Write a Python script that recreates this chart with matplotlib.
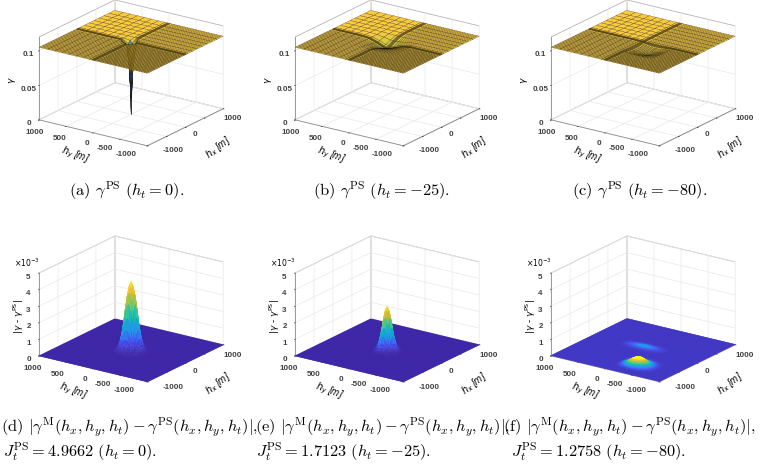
import numpy as np
import matplotlib
matplotlib.use("Agg")
import matplotlib.pyplot as plt
from matplotlib.colors import LinearSegmentedColormap, Normalize

plt.rcParams['mathtext.fontset'] = 'cm'

W, H = 764, 465

parula = LinearSegmentedColormap.from_list("parula", [
    (0.2422, 0.1504, 0.6603), (0.2810, 0.3228, 0.9579), (0.1540, 0.5902, 0.9218),
    (0.0265, 0.6800, 0.8135), (0.2161, 0.7843, 0.5923), (0.5044, 0.7993, 0.3480),
    (0.8185, 0.7327, 0.1900), (0.9956, 0.7862, 0.2226), (0.9769, 0.9839, 0.0805)])
gold_map = LinearSegmentedColormap.from_list("gold", [
    (0, (0.10, 0.10, 0.42)), (0.5, (0.14, 0.24, 0.68)), (0.72, (0.25, 0.55, 0.90)),
    (0.79, (0.80, 0.78, 0.25)), (0.875, (0.98, 0.79, 0.24)), (1, (0.98, 0.85, 0.20))])

hx_ticks = [-1000, -500, 0, 500, 1000]
hy_ticks = [-1000, -500, 0, 500, 1000]
hx_labels = ['-1000', '0', '1000']
hy_labels = ['1000', '500', '0', '-500', '-1000']
# label places in pixels, relative to the panel
hx_label_x = [173, 195, 233]
hx_label_y = [151, 135, 119]
hy_label_x = [35, 60, 87, 105, 126]
hy_label_y = [132, 138, 143, 148, 154]

top_zticks = [0, 0.05, 0.1]
top_zlabels = ['0', '0.05', '0.1']
bottom_zticks = [0, 1, 2, 3, 4, 5]
bottom_zlabels = ['0', '1', '2', '3', '4', '5']

# sampling lines of the gamma surfaces: fine for h<0, very fine around 0, coarse for h>0
mesh_top = np.concatenate([np.arange(-1000, -69, 30), np.arange(-30, 31, 10),
                           [70, 190, 320, 450, 580, 710, 840, 1000]])
mesh_bottom = np.arange(-1000, 1001, 25)

plane_gamma = 0.105

# panel a, spike at the origin
spike_a_h = [-100, -70, -30, -20, -10, 0, 10, 20, 30, 70, 190]
spike_a_v = [0.02, 0.10, 0.44, 0.58, 0.78, 1, 0.78, 0.58, 0.44, 0.10, 0]
spike_a_depth = 0.105

# panel b, wide dip at the origin
dip_b_h = [-400, -370, -340, -310, -280, -250, -220, -190, -160, -130, -100, -70,
           -30, -20, -10, 0, 10, 20, 30, 70, 190, 320, 450]
dip_b_v = [0.06, 0.09, 0.13, 0.18, 0.24, 0.31, 0.40, 0.49, 0.58, 0.67, 0.76, 0.85,
           0.96, 0.98, 0.99, 1, 0.99, 0.98, 0.96, 0.85, 0.45, 0.10, 0.01]
dip_b_depth = 0.010

# panel c, shallow dip moved towards the front corner
dip_c_h = [-520, -490, -460, -430, -400, -370, -340, -310, -280, -250, -220, -190, -160, -130, -100, -70,
           -30, -20, -10, 0, 10, 20, 30, 70]
dip_c_v = [0.20, 0.28, 0.38, 0.50, 0.62, 0.74, 0.85, 0.93, 0.98, 1, 0.98, 0.93, 0.85, 0.74, 0.62, 0.50,
           0.34, 0.30, 0.26, 0.22, 0.18, 0.15, 0.12, 0.03]
dip_c_depth = 0.006

# panel d and e, error peaks (1e-3)
peak_h = [-275, -250, -225, -200, -175, -150, -125, -100, -75, -50, -25, 0,
          25, 50, 75, 100, 125, 150, 175, 200, 225, 250, 275]
peak_d_v = [0, 0.01, 0.02, 0.05, 0.11, 0.20, 0.33, 0.50, 0.70, 0.86, 0.96, 1,
            0.96, 0.86, 0.70, 0.50, 0.33, 0.20, 0.11, 0.05, 0.02, 0.01, 0]
peak_d_height = 4.15
peak_e_v = [0, 0, 0.01, 0.02, 0.05, 0.10, 0.20, 0.36, 0.55, 0.78, 0.94, 1,
            0.94, 0.78, 0.55, 0.36, 0.20, 0.10, 0.05, 0.02, 0.01, 0, 0]
peak_e_height = 2.65

# panel f, main bump near the front and a faint streak behind it
bump_f_hx = [-850, -825, -800, -775, -750, -725, -700, -675, -650, -625, -600, -575,
             -550, -525, -500, -475, -450, -425, -400, -375, -350, -325, -300]
bump_f_hxv = [0.02, 0.05, 0.10, 0.18, 0.28, 0.40, 0.55, 0.70, 0.85, 0.95, 1, 0.99,
              0.95, 0.85, 0.72, 0.57, 0.42, 0.30, 0.20, 0.13, 0.08, 0.04, 0.02]
bump_f_hy = [-675, -650, -625, -600, -575, -550, -525, -500, -475, -450, -425, -400, -375, -350,
             -325, -300, -275, -250, -225, -200, -175, -150, -125, -100, -75, -50, -25]
bump_f_hyv = [0.02, 0.04, 0.06, 0.10, 0.15, 0.22, 0.30, 0.40, 0.50, 0.61, 0.72, 0.82, 0.90, 0.96,
              1, 0.96, 0.90, 0.82, 0.72, 0.61, 0.50, 0.39, 0.28, 0.19, 0.12, 0.07, 0.03]
bump_f_height = 0.5
bump_f_clim = 0.42
streak_f_hx = [-75, -50, -25, 0, 25, 50, 75, 100, 125, 150, 175, 200, 225, 250, 275, 300]
streak_f_hxv = [0.02, 0.08, 0.18, 0.34, 0.52, 0.72, 0.90, 1, 0.90, 0.72, 0.52, 0.34, 0.18, 0.08, 0.03, 0]
streak_f_hy = [-350, -325, -300, -275, -250, -225, -200, -175, -150, -125, -100, -75, -50, -25, 0, 25, 50,
               75, 100, 125, 150, 175, 200, 225, 250, 275, 300, 325, 350, 375, 400, 425, 450]
streak_f_hyv = [0.05, 0.08, 0.12, 0.17, 0.22, 0.28, 0.35, 0.42, 0.5, 0.57, 0.65, 0.72, 0.8, 0.86, 0.92, 0.97, 1,
                0.97, 0.92, 0.86, 0.8, 0.72, 0.65, 0.57, 0.5, 0.42, 0.35, 0.28, 0.22, 0.17, 0.12, 0.08, 0.05]
streak_f_height = 0.11
floor_f_level = 0.02

top_captions = [r"(a) $\gamma^{\mathrm{PS}}\ (h_t = 0)$.",
                r"(b) $\gamma^{\mathrm{PS}}\ (h_t = -25)$.",
                r"(c) $\gamma^{\mathrm{PS}}\ (h_t = -80)$."]
top_caption_x = [127, 382, 640]
diff_text = r"$|\gamma^{\mathrm{M}}(h_x, h_y, h_t) - \gamma^{\mathrm{PS}}(h_x, h_y, h_t)|$,"
bottom_captions = ["(d) " + diff_text, "(e) " + diff_text, "(f) " + diff_text]
bottom_caption_x = [1, 255, 503]
cost_captions = [r"$J_t^{\mathrm{PS}} = 4.9662\ (h_t = 0)$.",
                 r"$J_t^{\mathrm{PS}} = 1.7123\ (h_t = -25)$.",
                 r"$J_t^{\mathrm{PS}} = 1.2758\ (h_t = -80)$."]
cost_caption_x = [3, 256, 511]


def along_mesh(mesh, h, v):
    out = np.zeros(len(mesh))
    out[np.searchsorted(mesh, h)] = v
    return out


def put_text(x, y, s, **kw):
    kw.setdefault('ha', 'center')
    kw.setdefault('va', 'center')
    fig.text(x / W, 1 - y / H, s, **kw)


def make_axes(col, row):
    left = col * 256 - 8
    bottom = H - (row * 236 + 232 - 40)
    ax = fig.add_axes([left / W, bottom / H, 272 / W, 232 / H], projection='3d')
    ax.set_proj_type('ortho')
    ax.view_init(elev=20, azim=-145)
    ax.set_box_aspect((1, 1, 0.667), zoom=0.865)
    ax.patch.set_alpha(0)
    ax.set_xlim(-1000, 1000)
    ax.set_ylim(-1000, 1000)
    ax.set_xticks(hx_ticks)
    ax.set_xticklabels([''] * 5)
    ax.set_yticks(hy_ticks)
    ax.set_yticklabels([''] * 5)
    for axis in (ax.xaxis, ax.yaxis, ax.zaxis):
        axis.set_pane_color((1, 1, 1, 1))
        axis.pane.set_edgecolor('#b4b4b4')
        axis.pane.set_linewidth(0.6)
        axis.line.set_color('#8c8c8c')
        axis.line.set_linewidth(0.6)
        axis._axinfo['grid']['color'] = '#e8e8e8'
        axis._axinfo['grid']['linewidth'] = 0.5
        axis._axinfo['tick']['inward_factor'] = 0.1
        axis._axinfo['tick']['outward_factor'] = 0
        axis._axinfo['tick']['linewidth'] = {True: 0.4, False: 0.4}
        axis._axinfo['tick']['color'] = '#8c8c8c'
    ax.tick_params(labelsize=5.8, pad=-3, labelcolor='#404040', length=0)
    x0, dy = col * 256, row * 236
    shift = -2 if row else 0
    for i, s in enumerate(hy_labels):
        put_text(x0 + hy_label_x[i] + shift, hy_label_y[i] + dy, s, fontsize=5.8, color='#404040',
                 family='Liberation Sans', fontweight='bold')
    for i, s in enumerate(hx_labels):
        put_text(x0 + hx_label_x[i], hx_label_y[i] + dy, s, fontsize=5.8, color='#404040',
                 family='Liberation Sans', fontweight='bold')
    return ax


def draw_top(col, z, caption):
    ax = make_axes(col, 0)
    ax.set_zlim(0, 0.12)
    ax.set_zticks(top_zticks)
    ax.set_zticklabels(top_zlabels, family='Liberation Sans', fontweight='bold')
    hx, hy = np.meshgrid(mesh_top, mesh_top, indexing='ij')
    face = gold_map(Normalize(0, 0.12)(z))
    ax.plot_surface(hx, hy, z, rstride=1, cstride=1, facecolors=face, edgecolor=(0.1, 0.08, 0, 0.8),
                    linewidth=0.2, shade=False, antialiased=True)
    x0 = col * 256
    put_text(x0 + 13, 80, r"$\gamma$", rotation=90, fontsize=6.5, math_fontfamily='dejavusans')
    put_text(x0 + 75, 155, r"$h_y$ [m]", rotation=-20, fontsize=7, family='Liberation Sans',
             style='italic', math_fontfamily='dejavusans')
    put_text(x0 + 218, 148, r"$h_x$ [m]", rotation=38, fontsize=7, family='Liberation Sans',
             style='italic', math_fontfamily='dejavusans')
    put_text(top_caption_x[col], 191, caption, fontsize=11.8, family='cmr10')


def draw_bottom(col, z, vmax):
    ax = make_axes(col, 1)
    ax.set_zlim(0, 5)
    ax.set_zticks(bottom_zticks)
    ax.set_zticklabels(bottom_zlabels, family='Liberation Sans', fontweight='bold')
    hx, hy = np.meshgrid(mesh_bottom, mesh_bottom, indexing='ij')
    face = parula(Normalize(0, vmax)(z))
    surf = ax.plot_surface(hx, hy, z, rstride=1, cstride=1, facecolors=face, linewidth=0.3,
                           shade=False, antialiased=True)
    # give each cell's edge the colour of the cell, so no seams show
    surf.set_edgecolor(surf._facecolor3d)
    x0 = col * 256
    put_text(x0 + 27, 263, r"$\times 10^{-3}$", fontsize=5.5, math_fontfamily='dejavusans')
    put_text(x0 + 19, 317, r"$|\gamma$ - $\gamma^{\mathrm{PS}}|$", rotation=90, fontsize=6.5,
             math_fontfamily='dejavusans')
    put_text(x0 + 73, 391, r"$h_y$ [m]", rotation=-20, fontsize=7, family='Liberation Sans',
             style='italic', math_fontfamily='dejavusans')
    put_text(x0 + 218, 384, r"$h_x$ [m]", rotation=38, fontsize=7, family='Liberation Sans',
             style='italic', math_fontfamily='dejavusans')


fig = plt.figure(figsize=(W / 100, H / 100), dpi=100)

# gamma^PS surfaces
ones = np.full((len(mesh_top), len(mesh_top)), plane_gamma)
pa = along_mesh(mesh_top, spike_a_h, spike_a_v)
gamma_a = ones - spike_a_depth * np.outer(pa, pa)
pb = along_mesh(mesh_top, dip_b_h, dip_b_v)
gamma_b = ones - dip_b_depth * np.outer(pb, pb)
pc = along_mesh(mesh_top, dip_c_h, dip_c_v)
gamma_c = ones - dip_c_depth * np.outer(pc, pc)
for i, g in enumerate([gamma_a, gamma_b, gamma_c]):
    draw_top(i, g, top_captions[i])

# error surfaces, in units of 1e-3
pd_ = along_mesh(mesh_bottom, peak_h, peak_d_v)
pe = along_mesh(mesh_bottom, peak_h, peak_e_v)
err_d = peak_d_height * np.outer(pd_, pd_)
err_e = peak_e_height * np.outer(pe, pe)
err_f = (bump_f_height * np.outer(along_mesh(mesh_bottom, bump_f_hx, bump_f_hxv),
                                  along_mesh(mesh_bottom, bump_f_hy, bump_f_hyv))
         + streak_f_height * np.outer(along_mesh(mesh_bottom, streak_f_hx, streak_f_hxv),
                                      along_mesh(mesh_bottom, streak_f_hy, streak_f_hyv))
         + floor_f_level)
draw_bottom(0, err_d, peak_d_height)
draw_bottom(1, err_e, peak_e_height)
draw_bottom(2, err_f, bump_f_clim)

for i in range(3):
    put_text(bottom_caption_x[i], 427, bottom_captions[i], ha='left', fontsize=11.8, family='cmr10')
    put_text(cost_caption_x[i], 452, cost_captions[i], ha='left', fontsize=11.8, family='cmr10')

fig.savefig("out.png", dpi=100)
